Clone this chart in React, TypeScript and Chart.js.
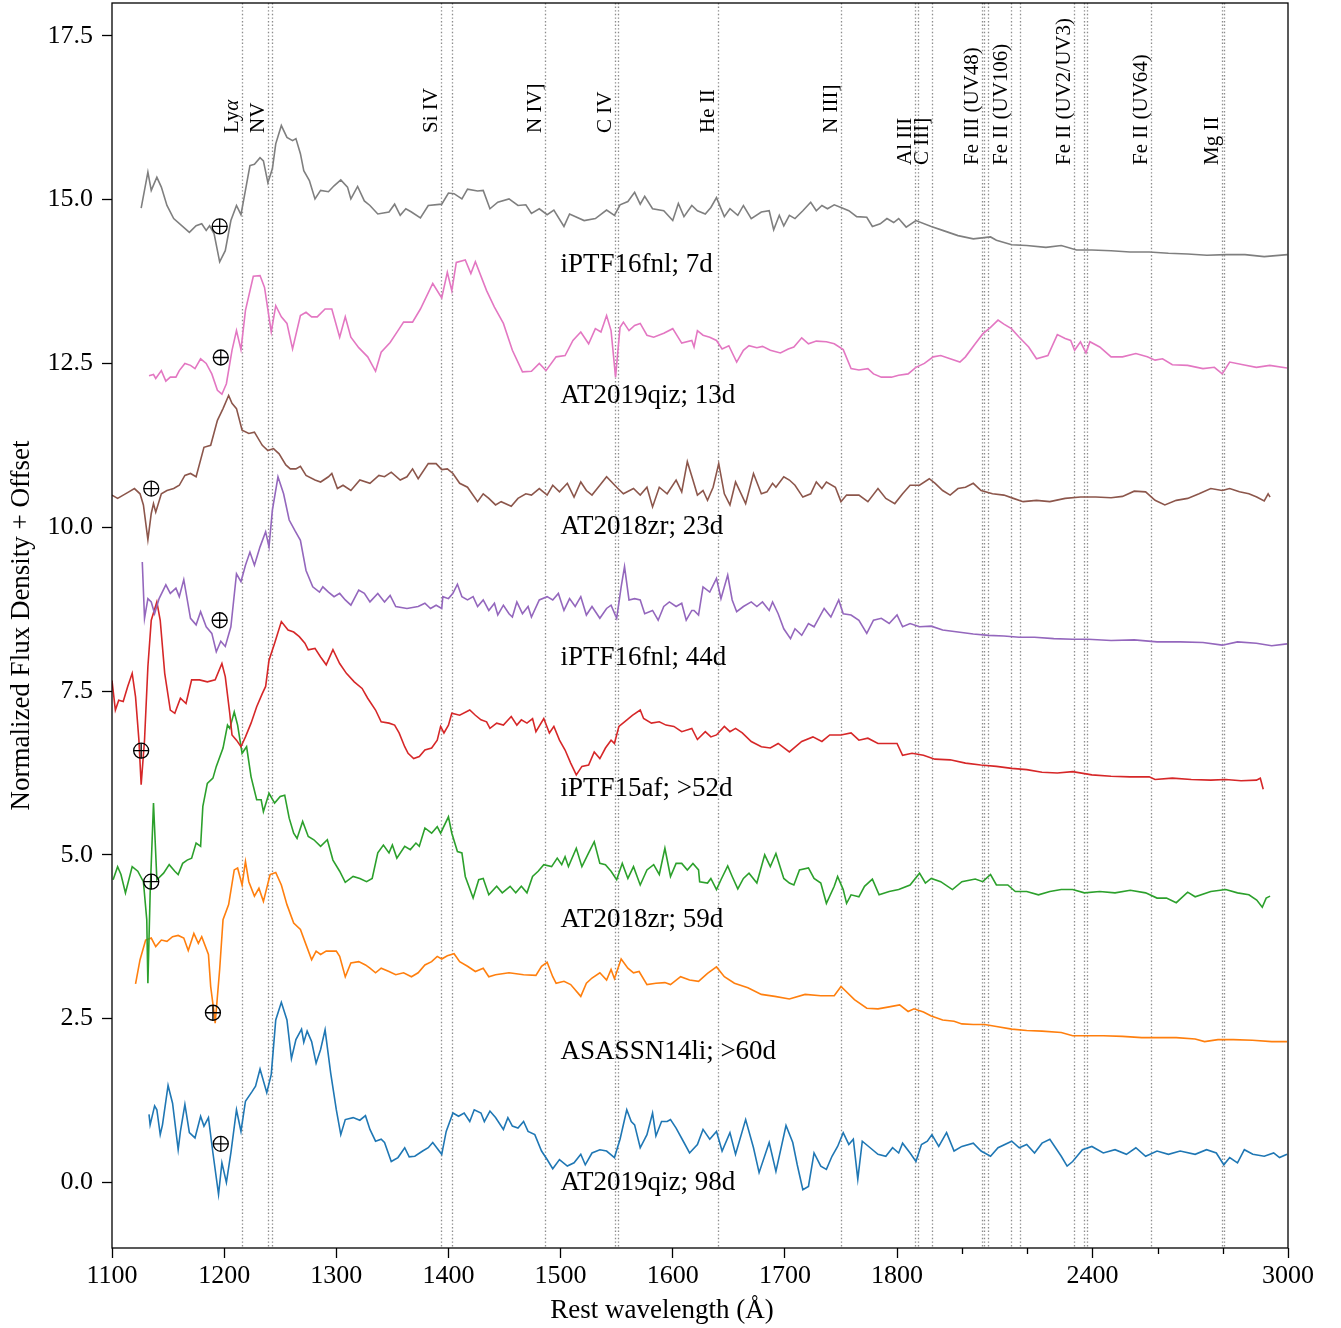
import React, { useEffect, useRef } from 'react';
import { Chart, registerables } from 'chart.js';

Chart.register(...registerables);

const FONT = "'Liberation Serif', 'Times New Roman', Times, serif";

// ---- axis definitions (wavelength axis is compressed beyond 1800 Å) ----
const X_MAJOR_TICKS = [1100, 1200, 1300, 1400, 1500, 1600, 1700, 1800, 2400, 3000];
const X_MINOR_TICKS = [2000, 2200, 2600, 2800];
const Y_TICKS = [0, 2.5, 5, 7.5, 10, 12.5, 15, 17.5];
const BREAK_WAVE = 1800;
const COMPRESSION = 0.2905;

const toAxis = (w: number) => (w <= BREAK_WAVE ? w : BREAK_WAVE + (w - BREAK_WAVE) * COMPRESSION);
const fromAxis = (v: number) => (v <= BREAK_WAVE ? v : BREAK_WAVE + (v - BREAK_WAVE) / COMPRESSION);

// ---- emission line markers ----
const LINE_WAVES = [1215.7, 1238.8, 1242.8, 1393.8, 1402.8, 1486.5, 1548.2, 1550.8, 1640.4, 1750, 1854.7, 1862.8, 1908.7, 2061.5, 2068.2, 2078.9, 2150, 2178, 2344, 2374, 2382, 2580, 2796, 2803];
const LINE_LABEL_TEXT = ['Ly', 'NV', 'Si IV', 'N IV]', 'C IV', 'He II', 'N III]', 'Al III', 'C III]', 'Fe III (UV48)', 'Fe II (UV106)', 'Fe II (UV2/UV3)', 'Fe II (UV64)', 'Mg II'];
const LINE_LABEL_WAVE = [1215.7, 1238.8, 1393.8, 1486.5, 1548.2, 1640.4, 1750, 1854.7, 1908.7, 2061.5, 2150, 2344, 2580, 2796];
const LINE_LABEL_ROW = [0, 0, 0, 0, 0, 0, 0, 1, 1, 1, 1, 1, 1, 1];

// ---- spectra (normalized flux density + offset) ----
const IPTF16FNL_7D = [[1126,14.87],[1132,15.42],[1135,15.14],[1140,15.34],[1144,15.19],[1149,14.91],[1155,14.71],[1169,14.50],[1175,14.60],[1180,14.63],[1184,14.53],[1187,14.60],[1191,14.48],[1196,14.05],[1201,14.22],[1206,14.68],[1211,14.91],[1215,14.77],[1223,15.52],[1227,15.54],[1232,15.64],[1235,15.59],[1239,15.26],[1243,15.47],[1246,15.85],[1251,16.13],[1256,15.95],[1261,15.90],[1264,15.93],[1268,15.70],[1271,15.44],[1276,15.29],[1281,15.01],[1286,15.14],[1293,15.12],[1298,15.21],[1304,15.30],[1310,15.19],[1313,15.01],[1319,15.20],[1325,14.98],[1330,14.91],[1337,14.78],[1347,14.81],[1352,14.93],[1357,14.76],[1362,14.86],[1367,14.81],[1375,14.72],[1382,14.91],[1394,14.93],[1400,15.10],[1405,15.09],[1412,15.01],[1417,15.16],[1426,15.13],[1431,15.14],[1437,14.86],[1444,14.96],[1454,15.01],[1462,14.91],[1469,14.92],[1474,14.79],[1481,14.86],[1488,14.77],[1494,14.84],[1503,14.59],[1508,14.78],[1521,14.68],[1531,14.71],[1541,14.84],[1548,14.76],[1553,14.92],[1560,14.97],[1566,15.11],[1571,14.93],[1575,15.05],[1582,14.86],[1592,14.83],[1600,14.68],[1605,14.94],[1610,14.74],[1617,14.91],[1622,14.83],[1629,14.78],[1634,14.88],[1639,15.03],[1646,14.74],[1651,14.86],[1658,14.76],[1663,14.91],[1670,14.71],[1679,14.81],[1686,14.83],[1690,14.54],[1695,14.76],[1699,14.60],[1704,14.76],[1709,14.71],[1716,14.83],[1723,14.96],[1728,14.83],[1733,14.91],[1738,14.86],[1744,14.92],[1750,14.88],[1757,14.83],[1764,14.74],[1773,14.73],[1778,14.59],[1785,14.63],[1791,14.71],[1797,14.65],[1805,14.71],[1828,14.58],[1858,14.68],[1905,14.59],[1940,14.53],[1987,14.45],[2034,14.40],[2087,14.43],[2105,14.38],[2152,14.31],[2198,14.30],[2257,14.27],[2304,14.30],[2351,14.23],[2398,14.23],[2457,14.22],[2515,14.20],[2574,14.20],[2633,14.18],[2692,14.17],[2751,14.15],[2810,14.16],[2868,14.16],[2927,14.13],[2998,14.16]];

const AT2019QIZ_13D = [[1133,12.31],[1137,12.33],[1139,12.27],[1144,12.39],[1148,12.23],[1152,12.29],[1157,12.29],[1160,12.39],[1165,12.50],[1170,12.47],[1174,12.42],[1179,12.57],[1184,12.50],[1189,12.34],[1194,12.09],[1198,12.03],[1202,12.19],[1207,12.70],[1211,13.00],[1215,12.71],[1219,13.31],[1226,13.83],[1232,13.84],[1236,13.66],[1242,12.98],[1246,13.38],[1251,13.21],[1256,13.11],[1261,12.72],[1268,13.23],[1273,13.28],[1278,13.21],[1283,13.21],[1290,13.33],[1296,13.33],[1303,12.90],[1308,13.21],[1313,12.90],[1320,12.74],[1328,12.60],[1335,12.38],[1340,12.67],[1348,12.82],[1355,13.00],[1360,13.13],[1368,13.13],[1375,13.33],[1386,13.72],[1394,13.50],[1399,13.89],[1403,13.61],[1407,14.04],[1415,14.08],[1420,13.87],[1424,14.05],[1434,13.61],[1441,13.36],[1449,13.11],[1457,12.70],[1466,12.37],[1474,12.38],[1481,12.50],[1487,12.39],[1496,12.60],[1504,12.62],[1511,12.85],[1518,12.98],[1525,12.80],[1531,13.03],[1536,12.98],[1541,13.23],[1545,13.00],[1549,12.29],[1553,13.05],[1556,13.13],[1561,13.00],[1566,13.08],[1571,13.11],[1577,12.93],[1583,12.90],[1592,12.96],[1600,13.03],[1608,12.81],[1617,12.85],[1619,12.75],[1622,13.00],[1627,12.93],[1633,12.90],[1639,12.85],[1644,12.72],[1650,12.77],[1657,12.52],[1663,12.70],[1668,12.77],[1675,12.74],[1680,12.76],[1687,12.70],[1696,12.66],[1703,12.72],[1708,12.75],[1715,12.89],[1721,12.80],[1728,12.84],[1737,12.83],[1744,12.80],[1752,12.71],[1759,12.42],[1766,12.40],[1774,12.42],[1779,12.34],[1786,12.29],[1795,12.29],[1805,12.32],[1834,12.34],[1858,12.44],[1884,12.50],[1911,12.60],[1934,12.62],[1963,12.57],[1993,12.52],[2010,12.60],[2040,12.80],[2063,12.95],[2087,13.05],[2110,13.16],[2128,13.10],[2151,13.03],[2175,12.90],[2204,12.75],[2228,12.57],[2263,12.62],[2292,12.94],[2316,12.88],[2333,12.85],[2345,12.70],[2363,12.83],[2380,12.66],[2392,12.83],[2422,12.75],[2457,12.60],[2492,12.60],[2533,12.65],[2568,12.60],[2592,12.55],[2615,12.57],[2645,12.48],[2692,12.47],[2739,12.42],[2774,12.44],[2798,12.34],[2821,12.52],[2862,12.48],[2903,12.44],[2944,12.47],[2997,12.43]];

const AT2018ZR_23D = [[1100,10.49],[1105,10.44],[1110,10.49],[1115,10.54],[1120,10.59],[1125,10.51],[1128,10.34],[1132,9.81],[1135,10.21],[1137,10.36],[1139,10.23],[1144,10.51],[1149,10.56],[1155,10.59],[1160,10.64],[1165,10.79],[1170,10.82],[1175,10.77],[1182,11.22],[1188,11.25],[1194,11.63],[1199,11.81],[1204,12.01],[1207,11.89],[1211,11.81],[1216,11.48],[1222,11.43],[1227,11.45],[1234,11.25],[1239,11.17],[1244,11.20],[1249,11.12],[1255,10.95],[1259,10.89],[1264,10.89],[1268,10.93],[1273,10.79],[1281,10.72],[1286,10.69],[1293,10.77],[1296,10.82],[1301,10.59],[1306,10.64],[1313,10.56],[1321,10.72],[1330,10.67],[1338,10.79],[1343,10.77],[1349,10.84],[1357,10.72],[1363,10.77],[1368,10.89],[1373,10.74],[1382,10.97],[1389,10.97],[1394,10.88],[1399,10.89],[1404,10.82],[1410,10.67],[1417,10.61],[1426,10.39],[1431,10.51],[1436,10.44],[1442,10.34],[1447,10.39],[1456,10.32],[1462,10.44],[1469,10.51],[1474,10.49],[1481,10.59],[1488,10.49],[1493,10.64],[1499,10.54],[1506,10.67],[1512,10.46],[1518,10.69],[1523,10.56],[1528,10.49],[1535,10.64],[1541,10.77],[1550,10.61],[1556,10.51],[1565,10.59],[1571,10.49],[1577,10.61],[1582,10.31],[1588,10.61],[1595,10.51],[1603,10.72],[1608,10.54],[1613,11.00],[1618,10.72],[1622,10.49],[1627,10.56],[1631,10.41],[1636,10.61],[1641,10.97],[1646,10.51],[1651,10.34],[1656,10.69],[1661,10.51],[1665,10.36],[1672,10.82],[1679,10.51],[1684,10.54],[1689,10.67],[1692,10.61],[1699,10.77],[1704,10.72],[1709,10.64],[1716,10.46],[1723,10.51],[1728,10.69],[1733,10.59],[1737,10.69],[1745,10.61],[1750,10.39],[1755,10.49],[1766,10.49],[1774,10.39],[1783,10.59],[1790,10.44],[1798,10.36],[1817,10.51],[1840,10.64],[1869,10.64],[1899,10.74],[1917,10.67],[1940,10.56],[1963,10.49],[1987,10.59],[2010,10.61],[2034,10.67],[2058,10.56],[2093,10.51],[2128,10.49],[2157,10.44],[2187,10.39],[2228,10.41],[2269,10.39],[2316,10.44],[2363,10.46],[2410,10.46],[2457,10.45],[2492,10.47],[2528,10.55],[2563,10.54],[2592,10.41],[2622,10.34],[2657,10.41],[2692,10.44],[2727,10.51],[2763,10.59],[2798,10.56],[2821,10.59],[2851,10.54],[2880,10.51],[2904,10.46],[2927,10.40],[2939,10.51],[2945,10.46]];

const IPTF16FNL_44D = [[1127,9.47],[1129,8.61],[1132,8.91],[1135,8.86],[1138,8.68],[1142,8.91],[1148,9.12],[1152,8.99],[1157,9.07],[1160,8.94],[1164,9.20],[1170,8.61],[1175,8.51],[1179,8.71],[1184,8.48],[1189,8.38],[1193,8.10],[1197,8.26],[1201,8.18],[1206,8.48],[1211,9.29],[1215,9.17],[1219,9.42],[1223,9.62],[1227,9.42],[1232,9.70],[1237,9.93],[1240,9.70],[1243,10.26],[1248,10.77],[1253,10.51],[1258,10.11],[1263,9.95],[1268,9.80],[1273,9.34],[1279,9.09],[1285,9.01],[1288,9.09],[1293,9.01],[1298,8.94],[1303,8.99],[1308,8.89],[1313,8.81],[1320,9.04],[1325,8.99],[1330,8.86],[1337,8.99],[1343,8.86],[1348,8.96],[1353,8.79],[1363,8.76],[1373,8.79],[1379,8.84],[1384,8.76],[1389,8.81],[1394,8.76],[1395,8.94],[1400,8.91],[1404,8.99],[1408,9.13],[1412,8.94],[1417,8.89],[1422,8.94],[1426,8.79],[1431,8.89],[1436,8.73],[1441,8.84],[1444,8.66],[1449,8.81],[1454,8.68],[1457,8.63],[1461,8.86],[1466,8.68],[1471,8.79],[1474,8.63],[1481,8.89],[1488,8.94],[1493,8.89],[1498,8.99],[1503,8.73],[1508,8.91],[1513,8.79],[1518,8.94],[1523,8.66],[1528,8.79],[1535,8.61],[1541,8.76],[1545,8.81],[1550,8.61],[1554,9.09],[1557,9.40],[1561,8.89],[1566,8.91],[1571,8.89],[1575,8.68],[1582,8.73],[1587,8.58],[1592,8.79],[1597,8.86],[1603,8.79],[1608,8.84],[1612,8.58],[1617,8.73],[1619,8.73],[1623,8.66],[1627,9.09],[1633,9.01],[1639,9.22],[1643,8.91],[1649,9.27],[1653,8.89],[1657,8.71],[1663,8.79],[1670,8.86],[1675,8.79],[1680,8.86],[1686,8.73],[1689,8.86],[1694,8.68],[1699,8.45],[1705,8.30],[1709,8.45],[1715,8.35],[1721,8.53],[1726,8.48],[1735,8.76],[1741,8.63],[1748,8.89],[1752,8.68],[1759,8.66],[1766,8.58],[1773,8.38],[1779,8.58],[1786,8.61],[1793,8.53],[1800,8.66],[1817,8.48],[1840,8.53],[1869,8.48],[1905,8.49],[1940,8.43],[1987,8.40],[2034,8.37],[2081,8.35],[2128,8.34],[2175,8.32],[2222,8.32],[2281,8.30],[2339,8.29],[2386,8.29],[2457,8.27],[2528,8.28],[2598,8.25],[2669,8.25],[2739,8.24],[2798,8.20],[2845,8.25],[2903,8.23],[2950,8.19],[2997,8.22]];

const IPTF15AF_52D = [[1100,7.66],[1103,7.21],[1106,7.36],[1110,7.34],[1114,7.57],[1118,7.77],[1121,7.41],[1124,6.75],[1126,6.07],[1129,6.75],[1132,7.87],[1135,8.58],[1140,8.86],[1143,8.58],[1147,7.77],[1152,7.21],[1156,7.16],[1161,7.39],[1166,7.31],[1171,7.67],[1178,7.67],[1185,7.64],[1192,7.67],[1198,7.92],[1201,7.72],[1205,7.16],[1207,6.83],[1211,6.75],[1215,6.65],[1219,6.80],[1224,7.01],[1229,7.26],[1234,7.46],[1237,7.57],[1240,7.97],[1245,8.23],[1251,8.56],[1257,8.43],[1262,8.40],[1267,8.33],[1272,8.23],[1275,8.13],[1281,8.15],[1286,8.02],[1291,7.90],[1297,8.13],[1303,7.92],[1309,7.77],[1316,7.64],[1323,7.54],[1328,7.39],[1335,7.21],[1340,7.03],[1347,7.01],[1352,6.98],[1356,6.86],[1361,6.65],[1364,6.55],[1369,6.47],[1374,6.50],[1379,6.60],[1385,6.63],[1390,6.75],[1393,6.96],[1396,6.86],[1400,6.98],[1403,7.16],[1410,7.13],[1419,7.21],[1424,7.13],[1429,7.06],[1434,7.03],[1437,6.93],[1443,7.01],[1449,6.98],[1456,7.11],[1461,6.98],[1465,7.06],[1470,7.01],[1475,7.08],[1478,6.88],[1485,7.08],[1490,6.86],[1494,6.96],[1499,6.75],[1504,6.60],[1509,6.40],[1514,6.22],[1519,6.35],[1525,6.37],[1530,6.57],[1535,6.47],[1540,6.63],[1545,6.75],[1548,6.70],[1552,6.96],[1557,7.03],[1564,7.13],[1571,7.21],[1574,7.08],[1581,7.01],[1588,7.03],[1594,6.98],[1601,6.96],[1608,6.88],[1617,6.93],[1622,6.76],[1629,6.88],[1634,6.80],[1639,6.83],[1646,6.96],[1651,6.88],[1656,6.93],[1662,6.86],[1670,6.73],[1679,6.65],[1687,6.63],[1694,6.70],[1704,6.57],[1715,6.73],[1725,6.80],[1733,6.73],[1740,6.83],[1750,6.83],[1759,6.86],[1766,6.75],[1774,6.78],[1783,6.70],[1791,6.70],[1800,6.70],[1817,6.52],[1846,6.55],[1881,6.52],[1916,6.46],[1963,6.45],[2010,6.40],[2057,6.37],[2105,6.35],[2152,6.32],[2198,6.30],[2245,6.26],[2292,6.25],[2339,6.27],[2398,6.22],[2457,6.20],[2515,6.19],[2574,6.19],[2592,6.15],[2645,6.17],[2703,6.15],[2763,6.14],[2809,6.15],[2856,6.13],[2903,6.14],[2915,6.17],[2924,6.00]];

const AT2018ZR_59D = [[1101,4.62],[1105,4.82],[1108,4.70],[1112,4.42],[1118,4.82],[1123,4.75],[1128,4.59],[1131,4.01],[1132,3.04],[1134,4.40],[1137,5.79],[1140,4.62],[1146,4.72],[1151,4.85],[1156,4.75],[1159,4.70],[1163,4.87],[1167,4.92],[1171,4.95],[1175,5.18],[1179,5.13],[1181,5.74],[1185,6.09],[1190,6.17],[1193,6.35],[1199,6.63],[1203,6.98],[1205,6.93],[1209,7.18],[1212,6.98],[1216,6.55],[1220,6.65],[1224,6.19],[1229,5.84],[1233,5.84],[1235,5.66],[1240,5.94],[1245,5.79],[1250,5.89],[1254,5.91],[1258,5.56],[1262,5.33],[1265,5.25],[1270,5.51],[1275,5.28],[1280,5.23],[1286,5.13],[1292,5.23],[1297,4.92],[1303,4.75],[1308,4.58],[1315,4.67],[1321,4.64],[1327,4.59],[1332,4.64],[1337,5.03],[1342,5.15],[1347,5.03],[1350,5.15],[1354,4.95],[1361,5.13],[1366,5.08],[1371,5.18],[1374,5.13],[1379,5.41],[1385,5.33],[1390,5.43],[1393,5.33],[1400,5.58],[1403,5.33],[1408,5.05],[1412,5.03],[1415,4.67],[1422,4.34],[1427,4.62],[1431,4.64],[1436,4.39],[1443,4.52],[1448,4.42],[1455,4.52],[1460,4.42],[1465,4.52],[1470,4.42],[1475,4.67],[1480,4.75],[1485,4.85],[1492,4.82],[1497,4.95],[1501,4.85],[1504,4.97],[1507,4.82],[1514,5.10],[1519,4.82],[1525,5.03],[1530,5.20],[1535,4.87],[1540,4.85],[1545,4.75],[1550,4.62],[1555,4.87],[1560,4.64],[1565,4.82],[1571,4.54],[1577,4.77],[1583,4.85],[1588,4.70],[1593,5.10],[1598,4.67],[1603,4.87],[1608,4.87],[1613,4.77],[1618,4.87],[1623,4.77],[1624,4.59],[1631,4.57],[1634,4.64],[1639,4.47],[1643,4.62],[1649,4.83],[1653,4.67],[1658,4.48],[1663,4.64],[1668,4.72],[1675,4.57],[1682,5.00],[1687,4.82],[1692,5.02],[1699,4.64],[1704,4.57],[1708,4.54],[1713,4.77],[1721,4.80],[1726,4.64],[1732,4.57],[1737,4.26],[1744,4.52],[1747,4.67],[1752,4.47],[1755,4.26],[1759,4.39],[1766,4.36],[1771,4.52],[1778,4.63],[1784,4.39],[1793,4.44],[1805,4.47],[1840,4.54],[1869,4.72],[1887,4.57],[1905,4.64],[1934,4.59],[1970,4.47],[1999,4.59],[2040,4.63],[2063,4.59],[2087,4.70],[2105,4.54],[2140,4.54],[2163,4.44],[2198,4.44],[2234,4.39],[2269,4.44],[2304,4.47],[2339,4.47],[2375,4.42],[2422,4.44],[2469,4.42],[2516,4.46],[2563,4.42],[2598,4.34],[2627,4.34],[2657,4.27],[2692,4.43],[2715,4.36],[2763,4.44],[2809,4.47],[2845,4.42],[2880,4.39],[2904,4.31],[2921,4.20],[2933,4.34],[2945,4.37]];

const ASASSN14LI_60D = [[1121,3.03],[1125,3.40],[1130,3.70],[1135,3.73],[1139,3.60],[1144,3.70],[1149,3.68],[1154,3.75],[1159,3.77],[1164,3.73],[1168,3.54],[1173,3.80],[1177,3.65],[1180,3.75],[1186,3.48],[1188,2.99],[1191,2.59],[1192,2.43],[1196,3.25],[1199,4.01],[1204,4.24],[1209,4.77],[1212,4.80],[1216,4.54],[1219,4.90],[1222,4.59],[1227,4.37],[1231,4.49],[1235,4.29],[1241,4.70],[1246,4.73],[1251,4.54],[1256,4.24],[1262,3.96],[1268,3.86],[1273,3.63],[1278,3.40],[1282,3.53],[1286,3.48],[1291,3.53],[1300,3.53],[1303,3.45],[1308,3.14],[1313,3.35],[1320,3.37],[1326,3.32],[1330,3.27],[1335,3.20],[1340,3.27],[1347,3.22],[1353,3.17],[1360,3.20],[1367,3.14],[1373,3.20],[1379,3.32],[1385,3.37],[1390,3.45],[1394,3.41],[1399,3.46],[1405,3.49],[1410,3.37],[1417,3.30],[1424,3.22],[1431,3.27],[1436,3.14],[1442,3.17],[1454,3.20],[1467,3.17],[1478,3.16],[1483,3.30],[1488,3.36],[1493,3.14],[1496,3.04],[1503,3.07],[1509,3.02],[1518,2.84],[1523,3.04],[1528,3.12],[1535,3.20],[1541,3.09],[1545,3.25],[1548,3.11],[1554,3.41],[1560,3.27],[1565,3.20],[1570,3.22],[1577,3.02],[1585,3.04],[1593,3.05],[1598,3.02],[1607,3.14],[1615,3.09],[1623,3.07],[1631,3.19],[1639,3.29],[1646,3.14],[1655,3.04],[1667,2.97],[1679,2.87],[1691,2.84],[1704,2.80],[1718,2.87],[1732,2.85],[1744,2.85],[1750,2.99],[1762,2.79],[1773,2.66],[1783,2.65],[1793,2.68],[1808,2.71],[1834,2.61],[1852,2.65],[1881,2.60],[1905,2.54],[1940,2.48],[1975,2.46],[1999,2.42],[2034,2.41],[2069,2.41],[2105,2.38],[2152,2.34],[2198,2.32],[2245,2.31],[2304,2.29],[2339,2.24],[2386,2.24],[2433,2.24],[2492,2.23],[2551,2.21],[2598,2.21],[2657,2.21],[2715,2.19],[2744,2.15],[2785,2.18],[2832,2.18],[2891,2.17],[2950,2.15],[2997,2.15]];

const AT2019QIZ_98D = [[1133,1.04],[1134,0.88],[1138,1.17],[1140,1.11],[1143,0.73],[1145,0.88],[1150,1.48],[1154,1.21],[1159,0.50],[1161,0.78],[1165,1.19],[1169,0.76],[1174,0.68],[1179,1.01],[1182,0.86],[1186,0.99],[1190,0.45],[1195,-0.18],[1198,0.30],[1202,0.00],[1206,0.45],[1211,1.11],[1215,0.78],[1219,1.24],[1225,1.39],[1228,1.47],[1232,1.73],[1238,1.37],[1242,1.65],[1246,2.48],[1251,2.75],[1256,2.48],[1260,1.89],[1264,2.18],[1269,2.34],[1271,2.14],[1274,2.31],[1278,2.15],[1282,1.82],[1286,2.03],[1290,2.33],[1295,1.67],[1300,1.11],[1304,0.73],[1308,0.96],[1315,0.99],[1321,0.95],[1326,1.02],[1330,0.81],[1335,0.63],[1340,0.66],[1343,0.61],[1349,0.32],[1355,0.38],[1361,0.53],[1365,0.39],[1370,0.40],[1377,0.48],[1382,0.53],[1386,0.61],[1394,0.43],[1398,0.78],[1404,1.06],[1409,1.01],[1414,1.06],[1419,0.93],[1423,1.11],[1429,1.06],[1432,0.93],[1437,1.09],[1442,0.99],[1449,0.81],[1453,0.99],[1457,0.86],[1462,0.83],[1467,0.93],[1471,0.78],[1477,0.73],[1483,0.48],[1488,0.35],[1493,0.21],[1499,0.35],[1506,0.25],[1512,0.30],[1518,0.43],[1522,0.27],[1528,0.45],[1535,0.50],[1541,0.48],[1548,0.38],[1553,0.66],[1559,1.11],[1563,0.93],[1566,0.88],[1571,0.53],[1577,0.73],[1582,1.06],[1585,0.71],[1590,0.93],[1595,0.93],[1598,0.96],[1603,0.83],[1610,0.61],[1615,0.45],[1622,0.58],[1627,0.81],[1633,0.66],[1639,0.78],[1644,0.48],[1651,0.76],[1656,0.43],[1665,0.96],[1672,0.53],[1677,0.15],[1686,0.61],[1692,0.17],[1701,0.87],[1707,0.61],[1711,0.27],[1716,-0.11],[1721,-0.06],[1726,0.45],[1732,0.25],[1737,0.20],[1742,0.40],[1747,0.55],[1752,0.76],[1757,0.58],[1761,0.66],[1765,0.05],[1769,0.63],[1776,0.53],[1783,0.43],[1790,0.40],[1796,0.53],[1805,0.45],[1817,0.60],[1840,0.45],[1858,0.32],[1875,0.58],[1893,0.63],[1907,0.73],[1928,0.55],[1952,0.76],[1975,0.48],[1999,0.55],[2034,0.60],[2058,0.48],[2087,0.40],[2110,0.53],[2152,0.63],[2175,0.53],[2198,0.58],[2222,0.45],[2245,0.60],[2269,0.66],[2304,0.40],[2322,0.25],[2339,0.32],[2369,0.50],[2398,0.55],[2433,0.45],[2469,0.50],[2504,0.43],[2533,0.53],[2563,0.40],[2598,0.48],[2633,0.43],[2669,0.48],[2715,0.43],[2750,0.50],[2780,0.45],[2803,0.27],[2821,0.38],[2845,0.30],[2866,0.50],[2892,0.43],[2927,0.40],[2956,0.45],[2974,0.38],[2997,0.43]];

const SPECTRA_DATA = [IPTF16FNL_7D, AT2019QIZ_13D, AT2018ZR_23D, IPTF16FNL_44D, IPTF15AF_52D, AT2018ZR_59D, ASASSN14LI_60D, AT2019QIZ_98D];
const SPECTRA_NAMES = ['iPTF16fnl; 7d', 'AT2019qiz; 13d', 'AT2018zr; 23d', 'iPTF16fnl; 44d', 'iPTF15af; >52d', 'AT2018zr; 59d', 'ASASSN14li; >60d', 'AT2019qiz; 98d'];
const SPECTRA_OFFSETS = [14, 12, 10, 8, 6, 4, 2, 0];
const SPECTRA_COLORS = ['#7f7f7f', '#e377c2', '#8c564b', '#9467bd', '#d62728', '#2ca02c', '#ff7f0e', '#1f77b4'];
const LABEL_WAVE = 1500;

// ---- telluric / geocoronal markers (⊕) ----
const MARKER_WAVES = [1196, 1197, 1135, 1196, 1126, 1135, 1190, 1197];
const MARKER_FLUX = [14.59, 12.59, 10.59, 8.58, 6.59, 4.59, 2.59, 0.59];

const overlayPlugin = {
  id: 'overlay',
  beforeDatasetsDraw(chart: any) {
    const { ctx, chartArea: a, scales } = chart;
    const x = scales.x;
    ctx.save();
    ctx.strokeStyle = 'rgba(120,120,120,0.85)';
    ctx.lineWidth = 1.3;
    ctx.setLineDash([1.4, 2.2]);
    for (const w of LINE_WAVES) {
      const px = Math.round(x.getPixelForValue(toAxis(w))) + 0.5;
      ctx.beginPath();
      ctx.moveTo(px, a.top);
      ctx.lineTo(px, a.bottom);
      ctx.stroke();
    }
    ctx.restore();
  },
  afterDraw(chart: any) {
    const { ctx, chartArea: a, scales } = chart;
    const x = scales.x;
    const y = scales.y;
    ctx.save();
    // frame
    ctx.strokeStyle = '#000';
    ctx.lineWidth = 1.3;
    ctx.setLineDash([]);
    ctx.strokeRect(a.left, a.top, a.right - a.left, a.bottom - a.top);
    // minor ticks
    for (const w of X_MINOR_TICKS) {
      const px = Math.round(x.getPixelForValue(toAxis(w))) + 0.5;
      ctx.beginPath();
      ctx.moveTo(px, a.bottom);
      ctx.lineTo(px, a.bottom + 6);
      ctx.stroke();
    }
    // line labels
    ctx.fillStyle = '#000';
    ctx.textAlign = 'left';
    ctx.textBaseline = 'alphabetic';
    LINE_LABEL_TEXT.forEach((t, i) => {
      const px = x.getPixelForValue(toAxis(LINE_LABEL_WAVE[i])) - 4;
      const py = LINE_LABEL_ROW[i] === 0 ? 133 : 165;
      ctx.save();
      ctx.translate(px, py);
      ctx.rotate(-Math.PI / 2);
      ctx.font = `21px ${FONT}`;
      ctx.fillText(t, 0, 0);
      if (t === 'Ly') {
        const wdt = ctx.measureText(t).width;
        ctx.font = `italic 21px ${FONT}`;
        ctx.fillText('α', wdt, 0);
      }
      ctx.restore();
    });
    // spectrum labels
    ctx.font = `27px ${FONT}`;
    ctx.textAlign = 'left';
    ctx.textBaseline = 'middle';
    SPECTRA_NAMES.forEach((n, i) => {
      ctx.fillText(n, x.getPixelForValue(toAxis(LABEL_WAVE)), y.getPixelForValue(SPECTRA_OFFSETS[i]));
    });
    // axis titles
    ctx.textAlign = 'center';
    ctx.textBaseline = 'middle';
    ctx.fillText('Rest wavelength (Å)', 662, 1311);
    ctx.save();
    ctx.translate(22, (a.top + a.bottom) / 2);
    ctx.rotate(-Math.PI / 2);
    ctx.fillText('Normalized Flux Density + Offset', 0, 0);
    ctx.restore();
    ctx.restore();
  },
};

export default function App() {
  const ref = useRef<HTMLCanvasElement | null>(null);

  useEffect(() => {
    document.body.style.margin = '0';
    if (!ref.current) return;
    Chart.defaults.font.family = FONT;

    const markerData = MARKER_WAVES.map((w, i) => ({ x: toAxis(w), y: MARKER_FLUX[i] }));
    const datasets: any[] = [
      {
        label: 'marker-circle',
        data: markerData,
        showLine: false,
        pointStyle: 'circle',
        pointRadius: 7.5,
        pointBorderWidth: 1.3,
        pointBorderColor: '#000',
        pointBackgroundColor: 'rgba(0,0,0,0)',
      },
      {
        label: 'marker-cross',
        data: markerData,
        showLine: false,
        pointStyle: 'cross',
        pointRadius: 7.5,
        pointBorderWidth: 1.3,
        pointBorderColor: '#000',
      },
      ...SPECTRA_DATA.map((d, i) => ({
        label: SPECTRA_NAMES[i],
        data: d.map(([w, f]) => ({ x: toAxis(w), y: f })),
        showLine: true,
        borderColor: SPECTRA_COLORS[i],
        borderWidth: 1.6,
        pointRadius: 0,
        tension: 0,
      })),
    ];

    const tickFont = { family: FONT, size: 26 };
    const chart = new Chart(ref.current, {
      type: 'scatter',
      data: { datasets },
      plugins: [overlayPlugin],
      options: {
        responsive: false,
        animation: false,
        devicePixelRatio: 1,
        layout: { autoPadding: false, padding: { left: 0, right: 53, top: 3, bottom: 0 } },
        plugins: { legend: { display: false }, tooltip: { enabled: false } },
        scales: {
          x: {
            type: 'linear',
            min: 1100,
            max: toAxis(3000),
            afterBuildTicks: (s: any) => {
              s.ticks = X_MAJOR_TICKS.map((v) => ({ value: toAxis(v) }));
            },
            afterFit: (s: any) => {
              s.height = 80;
              s.paddingLeft = 0;
              s.paddingRight = 0;
            },
            ticks: {
              callback: (v: any) => String(Math.round(fromAxis(Number(v)))),
              font: tickFont,
              color: '#000',
              padding: 3,
              maxRotation: 0,
              autoSkip: false,
            },
            grid: { drawOnChartArea: false, drawTicks: true, tickLength: 10, tickColor: '#000', tickWidth: 1.3 },
            border: { display: false },
          },
          y: {
            type: 'linear',
            min: -1,
            max: 18,
            afterBuildTicks: (s: any) => {
              s.ticks = Y_TICKS.map((v) => ({ value: v }));
            },
            afterFit: (s: any) => {
              s.width = 112;
              s.paddingTop = 0;
              s.paddingBottom = 0;
            },
            ticks: {
              callback: (v: any) => Number(v).toFixed(1),
              font: tickFont,
              color: '#000',
              padding: 9,
              autoSkip: false,
            },
            grid: { drawOnChartArea: false, drawTicks: true, tickLength: 10, tickColor: '#000', tickWidth: 1.3 },
            border: { display: false },
          },
        },
      },
    } as any);
    return () => chart.destroy();
  }, []);

  return (
    <div style={{ width: 1341, height: 1328 }}>
      <canvas ref={ref} width={1341} height={1328} style={{ display: 'block' }} />
    </div>
  );
}
